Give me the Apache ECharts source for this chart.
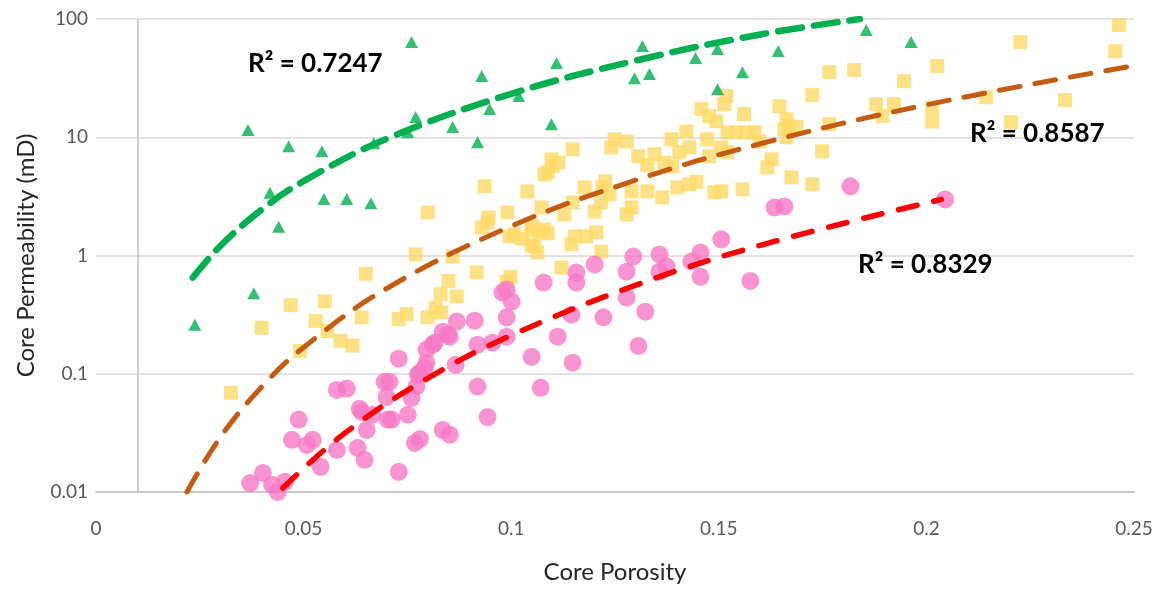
<!DOCTYPE html>
<html>
<head>
<meta charset="utf-8">
<script src="https://cdn.jsdelivr.net/npm/echarts@6/dist/echarts.min.js"></script>
<style>
html,body{margin:0;padding:0;background:#fff;}
#chart{width:1165px;height:592px;}
</style>
</head>
<body>
<div id="chart"></div>
<script>
// ---- Data ----
const xTickLabels = ['0', '0.05', '0.1', '0.15', '0.2', '0.25'];
const yTickLabels = ['0.01', '0.1', '1', '10', '100'];
const xTitle = 'Core Porosity';
const yTitle = 'Core Permeability (mD)';
const yAxisCrossAt = 0.01;

const greenPoints = [
  [0.0238,0.26],[0.0380,0.48],[0.0366,11.5],[0.0419,3.4],[0.0440,1.75],[0.0464,8.4],
  [0.0544,7.6],[0.0549,3.0],[0.0604,3.0],[0.0662,2.76],[0.0669,8.9],[0.0760,64],
  [0.0770,14.8],[0.0751,11.0],[0.0859,12.2],[0.0919,9.07],[0.0929,32.9],[0.0948,17.3],
  [0.1018,22.3],[0.1097,12.9],[0.1109,42.4],[0.1316,59],[0.1297,31.6],[0.1333,34.2],
  [0.1444,46.7],[0.1497,55.7],[0.1497,25.5],[0.1557,35.5],[0.1643,53.5],[0.1855,80.7],
  [0.1963,63.8]
];

const yellowPoints = [
  [0.0650,0.70],[0.0469,0.38],[0.0551,0.41],[0.0399,0.245],[0.0529,0.28],[0.0558,0.23],
  [0.0640,0.30],[0.0589,0.19],[0.0618,0.173],[0.0491,0.156],[0.0325,0.069],[0.0770,1.02],
  [0.0859,0.98],[0.0917,0.72],[0.0849,0.61],[0.0830,0.47],[0.0869,0.45],[0.0818,0.36],
  [0.0748,0.32],[0.0729,0.29],[0.0799,0.30],[0.0832,0.33],[0.0936,3.85],[0.0799,2.31],
  [0.1039,3.49],[0.1088,5.05],[0.1100,5.7],[0.0946,2.1],[0.0929,1.73],[0.0991,2.31],
  [0.0996,1.45],[0.1027,1.39],[0.1049,1.63],[0.1073,2.55],[0.1080,1.66],[0.1088,1.54],
  [0.1063,1.06],[0.1049,1.22],[0.0998,0.66],[0.0989,0.60],[0.1121,0.79],[0.1148,7.9],
  [0.1097,6.5],[0.1114,6.1],[0.1249,9.6],[0.1278,9.2],[0.1241,8.2],[0.1306,6.9],
  [0.1345,7.2],[0.1369,6.1],[0.1328,5.8],[0.1227,4.24],[0.1237,3.29],[0.1220,3.77],
  [0.1177,3.77],[0.1148,2.81],[0.1128,2.22],[0.1201,2.36],[0.1217,2.81],[0.1205,1.57],
  [0.1153,1.45],[0.1145,1.24],[0.1217,1.08],[0.1290,3.49],[0.1328,3.49],[0.1290,2.55],
  [0.1278,2.22],[0.1364,3.10],[0.1400,3.77],[0.1429,4.0],[0.1446,4.2],[0.1489,3.42],
  [0.1506,3.49],[0.1557,3.63],[0.1405,7.46],[0.1429,8.2],[0.1386,9.6],[0.1422,11.2],
  [0.1472,9.6],[0.1477,6.9],[0.1506,8.2],[0.1521,11.0],[0.1542,11.0],[0.1458,17.3],
  [0.1477,15.1],[0.1494,13.7],[0.1513,19.0],[0.1518,22.3],[0.1561,15.7],[0.1566,11.0],
  [0.1586,11.0],[0.1521,7.46],[0.1766,35.5],[0.1826,37],[0.2026,40],[0.1946,29.8],
  [0.1725,22.7],[0.1646,18.3],[0.1598,9.2],[0.1663,14.2],[0.1670,12.4],[0.1687,12.2],
  [0.1658,11.7],[0.1663,10.0],[0.1766,12.9],[0.1749,7.6],[0.1627,6.5],[0.1617,5.57],
  [0.1675,4.58],[0.1725,4.0],[0.1879,19],[0.1922,19],[0.1894,15.1],[0.2014,17.8],
  [0.2014,13.6],[0.2144,21.8],[0.2464,89],[0.2455,53.5],[0.2226,63.8],[0.2334,20.6],
  [0.2204,13.4],[0.1080,4.86],[0.1051,1.76],[0.1181,1.45],[0.1388,5.67],[0.1008,1.51],
  [0.1068,1.57],[0.1056,1.19],[0.0943,1.9]
];

const pinkPoints = [
  [0.0580,0.073],[0.0604,0.075],[0.0488,0.041],[0.0472,0.0276],[0.0522,0.0276],[0.0541,0.0163],
  [0.0508,0.025],[0.0580,0.0227],[0.0630,0.0236],[0.0647,0.0187],[0.0640,0.0476],[0.0666,0.045],
  [0.0652,0.0335],[0.0703,0.041],[0.0695,0.0855],[0.0700,0.0638],[0.0371,0.0119],[0.0402,0.0145],
  [0.0424,0.0115],[0.0438,0.0100],[0.0472,0.0099],[0.0455,0.0122],[0.0635,0.0505],[0.0707,0.0855],
  [0.0729,0.134],[0.0712,0.041],[0.0751,0.045],[0.0768,0.026],[0.0780,0.028],[0.0729,0.0148],
  [0.0760,0.0626],[0.0775,0.098],[0.0772,0.078],[0.0796,0.16],[0.0811,0.176],[0.0792,0.112],
  [0.0835,0.227],[0.0852,0.206],[0.0869,0.276],[0.0912,0.281],[0.0866,0.119],[0.0919,0.078],
  [0.0835,0.0335],[0.0852,0.0305],[0.0919,0.176],[0.0943,0.043],[0.0780,0.102],[0.0796,0.124],
  [0.0816,0.183],[0.0847,0.214],[0.0955,0.183],[0.0989,0.30],[0.0989,0.206],[0.0979,0.486],
  [0.1001,0.408],[0.0989,0.515],[0.1049,0.139],[0.1078,0.59],[0.1112,0.206],[0.1071,0.076],
  [0.1148,0.124],[0.1145,0.316],[0.1157,0.718],[0.1157,0.59],[0.1201,0.84],[0.1222,0.30],
  [0.1278,0.44],[0.1278,0.73],[0.1294,0.98],[0.1306,0.172],[0.1323,0.335],[0.1357,1.02],
  [0.1357,0.73],[0.1374,0.81],[0.1434,0.89],[0.1456,1.06],[0.1456,0.66],[0.1506,1.37],
  [0.1576,0.61],[0.1634,2.55],[0.1658,2.60],[0.1817,3.85],[0.2045,2.98]
];

// Trend lines
const greenTrend = [[0.0233,0.65],[0.03,1.21],[0.04,2.46],[0.05,4.25],[0.07,9.7],[0.1,23.3],[0.13,44.5],[0.16,74],[0.184,100]];
const brownTrend = [[0.0219,0.01],[0.03,0.0292],[0.04,0.078],[0.05,0.167],[0.07,0.526],[0.1,1.77],[0.13,4.34],[0.16,8.81],[0.2,18.8],[0.25,40.3]];
const redTrend   = [[0.045,0.0108],[0.06,0.0316],[0.08,0.092],[0.1,0.211],[0.13,0.561],[0.16,1.22],[0.2036,2.98]];

const r2Labels = ['R² = 0.7247', 'R² = 0.8587', 'R² = 0.8329'];

// ---- Chart ----
const FONT = 'Lato, "Open Sans", "Liberation Sans", sans-serif';
const chart = echarts.init(document.getElementById('chart'), null, {renderer: 'canvas'});

function trendSeries(data, color, width, dash) {
  return {
    type: 'line', data: data, smooth: 0.4, showSymbol: false, symbol: 'none', silent: true, z: 5,
    lineStyle: {color: color, width: width, type: dash, cap: 'round'}
  };
}

function r2Text(text, left, top) {
  return {type: 'text', left: left, top: top, z: 10,
    style: {text: text, fontFamily: FONT, fontSize: 26, fontWeight: 'bold', fill: '#000'}};
}

const option = {
  animation: false,
  backgroundColor: '#ffffff',
  grid: {left: 96, right: 31, top: 19, bottom: 100, containLabel: false},
  xAxis: {
    type: 'value', min: 0, max: 0.25, interval: 0.05,
    name: xTitle, nameLocation: 'middle', nameGap: 68,
    nameTextStyle: {fontFamily: FONT, fontSize: 24, color: '#262626'},
    axisLine: {show: true, lineStyle: {color: '#BFBFBF', width: 1.5}},
    axisTick: {show: false},
    splitLine: {show: false},
    axisLabel: {
      margin: 27, fontFamily: FONT, fontSize: 19, color: '#595959',
      formatter: (v, i) => xTickLabels[i]
    }
  },
  yAxis: {
    type: 'log', logBase: 10, min: 0.01, max: 100,
    name: yTitle, nameLocation: 'middle', nameGap: 58, nameRotate: 90,
    nameTextStyle: {fontFamily: FONT, fontSize: 24, color: '#262626'},
    axisLine: {show: false},
    axisTick: {show: false},
    splitLine: {show: true, lineStyle: {color: '#D9D9D9', width: 1.5}},
    axisLabel: {
      margin: 8, fontFamily: FONT, fontSize: 19, color: '#595959',
      formatter: (v, i) => yTickLabels[i]
    }
  },
  series: [
    {
      name: 'Yellow', type: 'scatter', data: yellowPoints, symbol: 'rect', symbolSize: 14, z: 2,
      itemStyle: {color: '#FFD966'},
      markLine: {
        silent: true, symbol: 'none', label: {show: false},
        lineStyle: {color: '#BFBFBF', width: 1.5, type: 'solid'},
        data: [{xAxis: yAxisCrossAt}]
      }
    },
    {
      name: 'Pink', type: 'scatter', data: pinkPoints, symbol: 'circle', symbolSize: 18, z: 3,
      itemStyle: {color: '#F878C6'}
    },
    {
      name: 'Green', type: 'scatter', data: greenPoints, symbol: 'triangle', symbolSize: [13, 12], z: 3,
      itemStyle: {color: '#00B050'}
    },
    trendSeries(greenTrend, '#00B050', 6.5, [24, 12]),
    trendSeries(brownTrend, '#C55A11', 5, [21, 15]),
    trendSeries(redTrend, '#FF0000', 5.5, [19, 17])
  ],
  graphic: [
    r2Text(r2Labels[0], 248, 51),
    r2Text(r2Labels[1], 970, 121),
    r2Text(r2Labels[2], 858, 252)
  ]
};
chart.setOption(option);
</script>
</body>
</html>
